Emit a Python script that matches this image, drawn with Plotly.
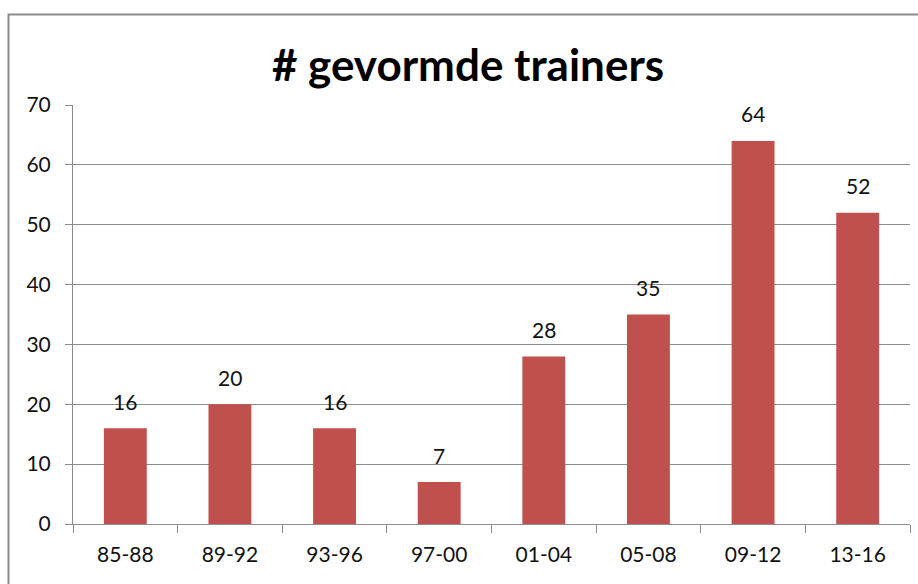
import plotly.graph_objects as go

categories = ["85-88", "89-92", "93-96", "97-00", "01-04", "05-08", "09-12", "13-16"]
values = [16, 20, 16, 7, 28, 35, 64, 52]
title_text = "# gevormde trainers"

L, R, T, B = 73, 8, 105, 60
W, H = 918, 584
pw = W - L - R
ph = H - T - B
FONT = "Lato, Open Sans, sans-serif"
GRAY = "#8C8C8C"

def px_to_paper_x(px):
    return (px - L) / pw

def px_to_paper_y(py):
    return (H - B - py) / ph

fig = go.Figure(go.Bar(
    x=categories, y=values,
    marker=dict(color="#C0504D", line=dict(width=0)),
    hoverinfo="x+y",
))

for c, v in zip(categories, values):
    fig.add_annotation(x=c, y=v, text=str(v), showarrow=False,
                       yanchor="middle", yshift=27,
                       font=dict(family=FONT, size=21, color="#111111"))

fig.update_layout(
    width=W, height=H,
    margin=dict(l=L, r=R, t=T, b=B),
    paper_bgcolor="white", plot_bgcolor="white",
    bargap=0.59,
    showlegend=False,
    title=dict(text="<b>" + title_text + "</b>", x=468 / W, xanchor="center",
               y=1 - 66 / H, yanchor="middle",
               font=dict(family=FONT, size=44, color="#000000")),
    font=dict(family=FONT, size=21, color="#111111"),
)

fig.update_yaxes(
    range=[0, 70], dtick=10, showgrid=True, gridcolor=GRAY, gridwidth=1,
    showline=True, linecolor=GRAY, linewidth=1,
    ticks="outside", ticklen=7, tickcolor=GRAY, ticklabelstandoff=10,
    tickfont=dict(family=FONT, size=21, color="#111111"), zeroline=False,
)
fig.update_xaxes(
    type="category",
    showline=True, linecolor=GRAY, linewidth=1,
    ticks="outside", ticklen=8, tickcolor=GRAY, tickson="boundaries",
    ticklabelstandoff=12,
    tickfont=dict(family=FONT, size=21, color="#111111"), showgrid=False,
)

fig.add_shape(type="rect", xref="paper", yref="paper",
              x0=px_to_paper_x(8.5), x1=px_to_paper_x(W + 20),
              y0=px_to_paper_y(H + 20), y1=px_to_paper_y(14.5),
              line=dict(color=GRAY, width=2), fillcolor="rgba(0,0,0,0)", layer="below")

fig.write_html("out.html", config={"displayModeBar": False},
               post_script="document.body.style.margin='0';document.body.style.overflow='hidden';")
